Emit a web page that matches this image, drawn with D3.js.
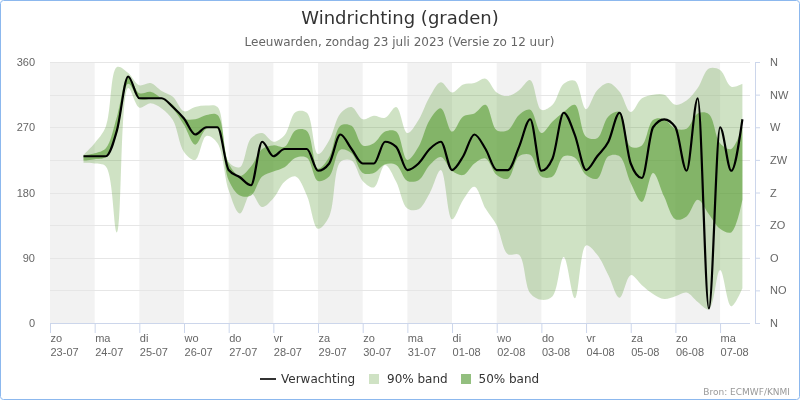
<!DOCTYPE html>
<html>
<head>
<meta charset="utf-8">
<title>Windrichting</title>
<script src="https://d3js.org/d3.v7.min.js"></script>
<style>
    html, body { margin: 0; padding: 0; background: #fff; }
    svg { display: block; font-family: "DejaVu Sans", sans-serif; will-change: opacity; }
    .domain { display: none; }
    .tick line { stroke: #ccd6eb; }
    .tick text { fill: #666; font-size: 11px; }
</style>
</head>
<body>
<div id="chart"></div>
<script>
// days on the x axis
var dayNames = ["zo","ma","di","wo","do","vr","za","zo","ma","di","wo","do","vr","za","zo","ma"];
var dayDates = ["23-07","24-07","25-07","26-07","27-07","28-07","29-07","30-07","31-07","01-08","02-08","03-08","04-08","05-08","06-08","07-08"];
var compass = ["N","NO","O","ZO","Z","ZW","W","NW","N"];
var degreeTicks = [0, 90, 180, 270, 360];
var compassTicks = [0, 45, 90, 135, 180, 225, 270, 315, 360];

// one value every 6 hours, first one on 23-07 18:00
var forecast = [230,230,230,266,340,310,310,310,298,282,260,270,270,211,201,190,250,230,240,240,
    240,210,220,260,240,220,220,250,243,211,220,240,250,211,230,260,240,211,211,243,
    281,210,227,290,259,211,230,250,290,220,200,270,281,270,210,310,20,270,210,281];
var high90 = [232,248,271,353,345,328,331,320,312,292,298,300,298,222,215,255,262,250,259,291,
    290,233,252,289,298,281,286,283,298,262,280,312,332,318,329,331,337,318,313,321,
    335,294,301,330,334,295,321,331,319,291,310,315,315,301,307,324,351,349,326,330];
var high50 = [231,234,241,285,340,317,319,310,301,282,281,287,287,220,203,216,240,245,243,266,
    265,213,229,272,272,245,248,264,264,225,243,280,296,264,285,289,301,266,266,287,
    294,262,278,291,301,257,255,285,291,243,245,280,281,268,268,289,288,248,240,271];
var low50 = [224,226,229,262,330,309,309,309,296,273,246,268,268,197,176,176,202,209,215,228,
    228,196,202,239,234,207,207,219,218,196,197,218,229,210,204,220,227,204,199,230,
    232,202,202,230,228,204,199,230,230,193,167,207,174,143,147,170,150,130,125,170];
var low90 = [221,220,216,125,324,297,303,296,280,236,225,258,248,183,151,179,160,172,195,202,
    176,130,147,222,224,196,187,218,195,158,157,179,211,143,170,188,158,135,95,94,
    41,32,37,91,34,107,94,66,35,66,52,40,33,37,42,29,19,73,23,48];

var width = 800, height = 400;
var plot = { left: 50, right: 750, top: 62, bottom: 323 };

var firstDay = Date.UTC(2023, 6, 23);
var dayMs = 24 * 3600 * 1000;
var startMs = firstDay + 0.75 * dayMs;
var stepMs = dayMs / 4;
var time = function(i) { return new Date(startMs + i * stepMs); };
var dayTime = function(i) { return new Date(firstDay + i * dayMs); };

var x = d3.scaleUtc()
    .domain([dayTime(0), new Date(firstDay + 15.67 * dayMs)])
    .range([plot.left, plot.right]);
var y = d3.scaleLinear().domain([0, 360]).range([plot.bottom, plot.top]);

var svg = d3.select("#chart").append("svg")
    .attr("width", width)
    .attr("height", height);

// outer border
svg.append("rect")
    .attr("x", 0.5).attr("y", 0.5)
    .attr("width", width - 1).attr("height", height - 1)
    .attr("rx", 3)
    .attr("fill", "#fff")
    .attr("stroke", "#8cb8ee");

// alternating day bands
svg.selectAll(".dayband")
    .data(d3.range(0, dayNames.length - 1, 2))
    .enter().append("rect")
    .attr("class", "dayband")
    .attr("x", function(d) { return x(dayTime(d)); })
    .attr("width", function(d) { return x(dayTime(d + 1)) - x(dayTime(d)); })
    .attr("y", plot.top)
    .attr("height", plot.bottom - plot.top)
    .attr("fill", "#f2f2f2");

// grid
svg.selectAll(".grid")
    .data(compassTicks)
    .enter().append("line")
    .attr("class", "grid")
    .attr("x1", plot.left).attr("x2", plot.right)
    .attr("y1", function(d) { return Math.round(y(d)) + 0.5; })
    .attr("y2", function(d) { return Math.round(y(d)) + 0.5; })
    .attr("stroke", "#e6e6e6");

var band = function(lo, hi) {
    return d3.area()
        .x(function(d, i) { return x(time(i)); })
        .y0(function(d, i) { return y(lo[i]); })
        .y1(function(d, i) { return y(hi[i]); })
        .curve(d3.curveCatmullRom.alpha(0.5));
};

svg.append("path")
    .attr("d", band(low90, high90)(forecast))
    .attr("fill", "#609f3c")
    .attr("fill-opacity", 0.3);

svg.append("path")
    .attr("d", band(low50, high50)(forecast))
    .attr("fill", "#609f3c")
    .attr("fill-opacity", 0.65);

// monotone keeps the flat stretches of the forecast flat
var line = d3.line()
    .x(function(d, i) { return x(time(i)); })
    .y(function(d) { return y(d); })
    .curve(d3.curveMonotoneX);

svg.append("path")
    .attr("d", line(forecast))
    .attr("fill", "none")
    .attr("stroke", "#000")
    .attr("stroke-width", 2.2);

// x axis
var xAxis = svg.append("g")
    .attr("transform", "translate(0," + plot.bottom + ")")
    .call(d3.axisBottom(x)
        .tickValues(dayNames.map(function(d, i) { return dayTime(i); }))
        .tickSize(10)
        .tickFormat(""));
xAxis.selectAll(".tick text").each(function(d, i) {
    var t = d3.select(this)
        .attr("text-anchor", "start")
        .attr("x", 0).attr("y", 0).attr("dy", null);
    t.append("tspan").attr("x", 0).attr("y", 19).text(dayNames[i]);
    t.append("tspan").attr("x", 0).attr("y", 33).text(dayDates[i]);
});
svg.append("line")
    .attr("x1", plot.left).attr("x2", plot.right)
    .attr("y1", plot.bottom + 0.5).attr("y2", plot.bottom + 0.5)
    .attr("stroke", "#ccd6eb");

// degrees on the left
var yAxis = svg.append("g")
    .attr("transform", "translate(" + plot.left + ",0)")
    .call(d3.axisLeft(y).tickValues(degreeTicks).tickSize(0).tickPadding(15));
yAxis.selectAll("line").remove();

// compass on the right
var rightAxis = svg.append("g")
    .attr("transform", "translate(755,0)")
    .call(d3.axisRight(y)
        .tickValues(compassTicks)
        .tickSize(5)
        .tickPadding(10)
        .tickFormat(function(d, i) { return compass[i]; }));
svg.append("line")
    .attr("x1", 755.5).attr("x2", 755.5)
    .attr("y1", plot.top).attr("y2", plot.bottom)
    .attr("stroke", "#ccd6eb");

// title
svg.append("text")
    .attr("x", 400).attr("y", 24)
    .attr("text-anchor", "middle")
    .attr("font-size", 18).attr("fill", "#333")
    .text("Windrichting (graden)");
svg.append("text")
    .attr("x", 399.5).attr("y", 46)
    .attr("text-anchor", "middle")
    .attr("font-size", 12).attr("fill", "#666")
    .text("Leeuwarden, zondag 23 juli 2023 (Versie zo 12 uur)");

// legend
svg.append("line")
    .attr("x1", 260).attr("x2", 276)
    .attr("y1", 379).attr("y2", 379)
    .attr("stroke", "#333").attr("stroke-width", 2);
svg.append("text").attr("x", 281).attr("y", 383)
    .attr("font-size", 12).attr("fill", "#333").text("Verwachting");
svg.append("rect").attr("x", 369).attr("y", 374).attr("width", 10).attr("height", 10)
    .attr("fill", "#cfe2c4");
svg.append("text").attr("x", 387).attr("y", 383)
    .attr("font-size", 12).attr("fill", "#333").text("90% band");
svg.append("rect").attr("x", 461).attr("y", 374).attr("width", 10).attr("height", 10)
    .attr("fill", "#93bf7f");
svg.append("text").attr("x", 478.5).attr("y", 383)
    .attr("font-size", 12).attr("fill", "#333").text("50% band");

svg.append("text")
    .attr("x", 790).attr("y", 395)
    .attr("text-anchor", "end")
    .attr("font-size", 9).attr("fill", "#999")
    .text("Bron: ECMWF/KNMI");
</script>
</body>
</html>
